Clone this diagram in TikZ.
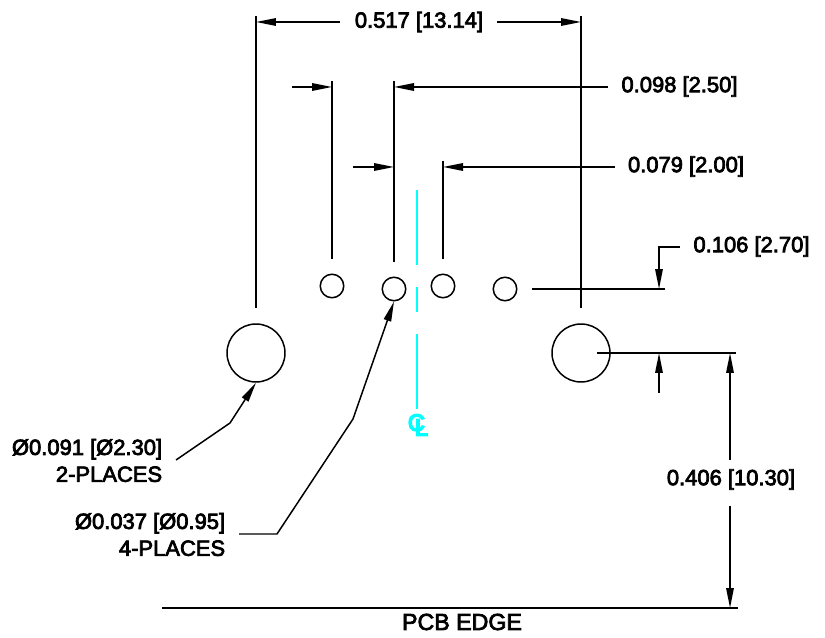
\documentclass[tikz,border=0pt]{standalone}
\usepackage{fontspec}
\setmainfont{Liberation Sans}
\usetikzlibrary{arrows.meta}
\definecolor{clcyan}{RGB}{0,255,255}
\newcommand{\heavy}[1]{\special{pdf:code 2 Tr 0.42 w}#1\special{pdf:code 0 Tr}}

\tikzset{
  dimline/.style={line width=0.85pt,line join=miter},
  dimarrow/.style={dimline,-{Triangle[length=0.4cm,width=0.15cm]}},
  hole/.style={draw,line width=0.85pt,circle,inner sep=0pt,minimum size=#1},
  dimtext/.style={inner sep=0pt,font=\fontsize{12.5}{15.3}\selectfont},
  centerline/.style={clcyan,line width=0.85pt},
}

\begin{document}
\begin{tikzpicture}[x=0.02cm,y=-0.02cm]
  \useasboundingbox (0, 0) rectangle (825, 638);

  \node[hole=1.16cm] (postL) at (256, 353) {};
  \node[hole=1.16cm] (postR) at (581, 353) {};
  \node[hole=0.47cm] (pinA) at (332, 286) {};
  \node[hole=0.47cm] (pinB) at (394, 289) {};
  \node[hole=0.47cm] (pinC) at (443, 286) {};
  \node[hole=0.47cm] (pinD) at (505, 289) {};

  \draw[dimline] (256, 16) -- (256, 308);
  \draw[dimline] (581, 16) -- (581, 308);
  \draw[dimline] (332, 81) -- (332, 259);
  \draw[dimline] (394, 81) -- (394, 262);
  \draw[dimline] (443, 161) -- (443, 259);

  \node[dimtext] (top) at (419, 22) {\heavy{0.517 [13.14]}};
  \draw[dimarrow] (340, 22) -- (256, 22);
  \draw[dimarrow] (497, 22) -- (581, 22);

  \node[dimtext] (pitchB) at (679.5, 86.5) {\heavy{0.098 [2.50]}};
  \draw[dimarrow] (292, 87) -- (332, 87);
  \draw[dimarrow] (608, 87) -- (394, 87);

  \node[dimtext] (pitchA) at (686, 166.5) {\heavy{0.079 [2.00]}};
  \draw[dimarrow] (353, 167) -- (394, 167);
  \draw[dimarrow] (615, 167) -- (443, 167);

  \node[dimtext] (row) at (751.5, 246.5) {\heavy{0.106 [2.70]}};
  \draw[dimline] (532, 289) -- (665, 289);
  \draw[dimarrow] (680, 247) -- (659, 247) -- (659, 289);
  \draw[dimline] (597, 353) -- (736, 353);
  \draw[dimarrow] (659, 393) -- (659, 353);

  \node[dimtext] (edge) at (731, 479.5) {\heavy{0.406 [10.30]}};
  \draw[dimarrow] (730, 460) -- (730, 353);
  \draw[dimarrow] (730, 506) -- (730, 608);
  \draw[dimline] (162, 608) -- (738, 608);
  \node[dimtext,font=\fontsize{13.2}{15.3}\selectfont] (pcb) at (462, 622)
    {\heavy{PCB EDGE}};

  \node[dimtext,align=right,anchor=east] (tagL) at (162.5, 460.5)
    {\heavy{Ø0.091 [Ø2.30]}\\\heavy{2-PLACES}};
  \node[dimtext,align=right,anchor=east] (tagS) at (225.5, 534.5)
    {\heavy{Ø0.037 [Ø0.95]}\\\heavy{4-PLACES}};
  \draw[dimarrow] (176, 460) -- (230, 423) -- (postL.south);
  \draw[dimarrow] (239, 534) -- (277, 534) -- (353, 419) -- (pinB.south);

  \draw[centerline] (417, 190) -- (417, 265);
  \draw[centerline] (417, 287) -- (417, 312);
  \draw[centerline] (417, 334) -- (417, 409);
  \node[dimtext,clcyan,font=\fontsize{13.5}{15.3}\selectfont] (cl) at (418, 425)
    {\special{pdf:code 2 Tr 0.8 w}C\kern-0.42em\raisebox{-0.2em}{L}\special{pdf:code 0 Tr}};
\end{tikzpicture}
\end{document}
